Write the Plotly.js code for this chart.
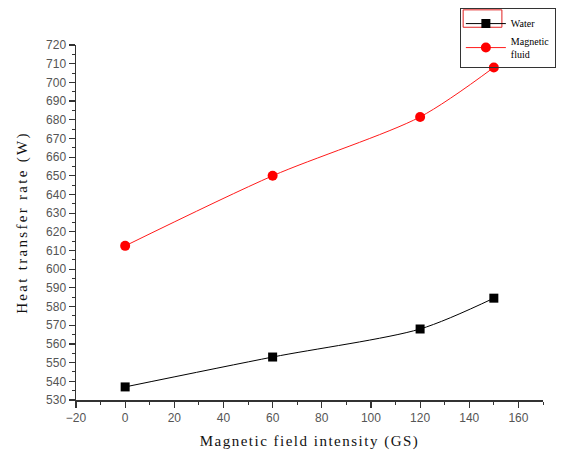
<!DOCTYPE html>
<html><head><meta charset="utf-8">
<script src="https://cdn.plot.ly/plotly-3.0.1.min.js"></script>
<style>
body{margin:0;background:#fff}#chart{width:564px;height:450px}
text.xtitle{letter-spacing:1.5px}
text.ytitle{letter-spacing:2.3px}
</style>
</head><body><div id="chart"></div>
<script>
const fieldGS = [0, 60, 120, 150];
const waterW = [537, 553, 568, 584.5];
const magneticW = [612.5, 650, 681.5, 708];
const seriesNames = ["Water", "Magnetic<br>fluid"];

const traces = [
  {x: fieldGS, y: waterW, name: seriesNames[0], type: 'scatter', mode: 'lines+markers',
   line: {color: '#000', width: 1, shape: 'spline', smoothing: 0.8},
   marker: {symbol: 'square', size: 9, color: '#000'}},
  {x: fieldGS, y: magneticW, name: seriesNames[1], type: 'scatter', mode: 'lines+markers',
   line: {color: '#ff1a1a', width: 1, shape: 'spline', smoothing: 0.8},
   marker: {symbol: 'circle', size: 10, color: '#ff0000'}}
];

const axisCommon = {
  showgrid: false, zeroline: false, showline: true, linecolor: '#333', linewidth: 1.5,
  ticks: 'outside', ticklen: 6, tickwidth: 1.2, tickcolor: '#333',
  tickfont: {family: 'Liberation Sans, Arial', size: 12, color: '#555'},
  mirror: false
};

const layout = {
  width: 564, height: 450,
  margin: {l: 76, r: 21, t: 45, b: 50, autoexpand: false},
  paper_bgcolor: '#fff', plot_bgcolor: '#fff',
  showlegend: true,
  legend: {x: 0.822, y: 1.104, xanchor: 'left', yanchor: 'top',
    bordercolor: '#333', borderwidth: 1, bgcolor: 'rgba(255,255,255,0)',
    font: {family: 'Liberation Serif, Times New Roman', size: 10, color: '#000'},
    tracegroupgap: 0, itemwidth: 40},
  shapes: [
    {type: 'rect', xref: 'paper', yref: 'paper', x0: 0.829, x1: 0.912, y0: 1.05, y1: 1.099,
     line: {color: '#e02020', width: 1}, layer: 'above'}
  ],
  xaxis: Object.assign({}, axisCommon, {
    range: [-20, 170], tickmode: 'linear', tick0: -20, dtick: 20,
    minor: {ticks: 'outside', ticklen: 3, tickwidth: 1, tickcolor: '#333', dtick: 10, tick0: -20},
    title: {text: 'Magnetic field intensity (GS)', standoff: 12,
      font: {family: 'Liberation Serif, Times New Roman', size: 15, color: '#111'}}
  }),
  yaxis: Object.assign({}, axisCommon, {
    range: [530, 720], tickmode: 'linear', tick0: 530, dtick: 10,
    minor: {ticks: 'outside', ticklen: 3, tickwidth: 1, tickcolor: '#333', dtick: 5, tick0: 530},
    title: {text: 'Heat transfer rate (W)', standoff: 15,
      font: {family: 'Liberation Serif, Times New Roman', size: 15, color: '#111'}}
  })
};

Plotly.newPlot('chart', traces, layout, {displayModeBar: false, staticPlot: true});
</script></body></html>
